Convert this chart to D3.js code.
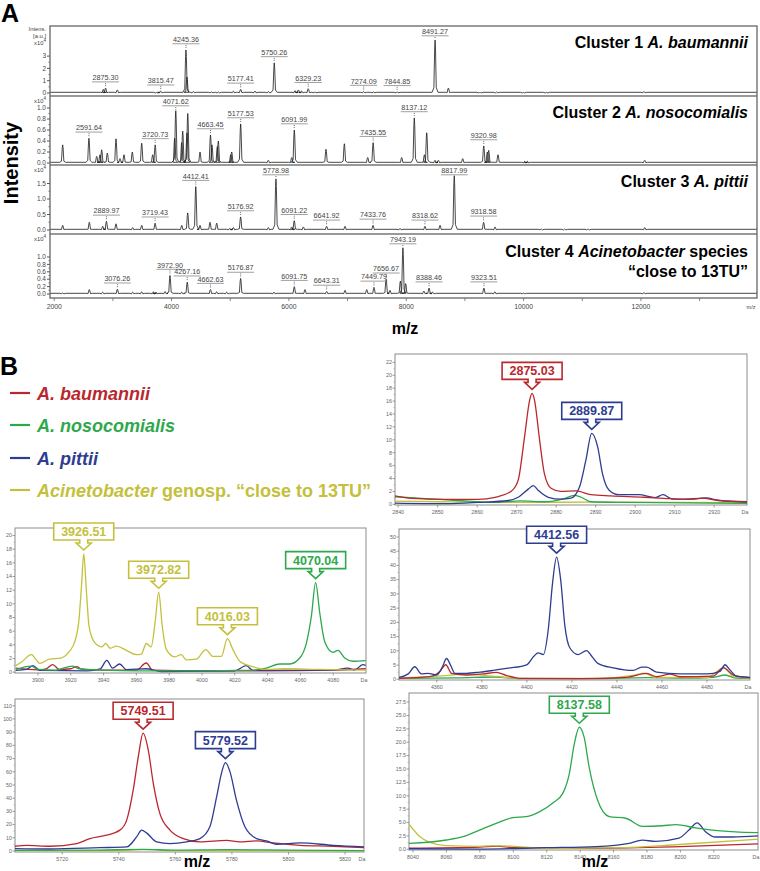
<!DOCTYPE html>
<html>
<head>
<meta charset="utf-8">
<script src="https://cdn.jsdelivr.net/npm/d3@7"></script>
<style>
  body { margin: 0; background: #fff; }
  svg { display: block; font-family: "Liberation Sans", Arial, sans-serif; }
</style>
</head>
<body>
<div id="chart"></div>
<script>
// ---------- Panel A: MALDI-TOF spectra, intensities in x10^4 a.u. ----------
// labelled peaks [m/z, intensity]
const c1Labeled = [[2875.30, 0.4], [3815.47, 0.15], [4245.36, 3.5], [5177.41, 0.3], [5750.26, 2.45],
                   [6329.23, 0.35], [7274.09, 0.12], [7844.85, 0.1], [8491.27, 4.3]];
const c1Other = [[2837, 0.3], [3075, 0.25], [3746, 0.05], [4262, 1.3], [4371, 0.12], [4684, 0.1], [4797, 0.08],
                 [5053, 0.15], [5422, 0.15], [5649, 0.12], [6104, 0.2], [6161, 0.25], [6218, 0.15], [6445, 0.1],
                 [7439, 0.1], [8718, 0.4], [9257, 0.05], [9541, 0.08], [9996, 0.05], [10393, 0.05], [12050, 0.12]];

const c2Labeled = [[2591.64, 0.45], [3720.73, 0.33], [4071.62, 0.95], [4663.45, 0.51], [5177.53, 0.71],
                   [6091.99, 0.6], [7435.55, 0.37], [8137.12, 0.82], [9320.98, 0.31]];
const c2Other = [[2144, 0.33], [2724, 0.12], [2780, 0.15], [2809, 0.24], [2905, 0.18], [3053, 0.44], [3121, 0.08],
                 [3189, 0.15], [3331, 0.2], [3491, 0.36], [3678, 0.15], [4053, 0.45], [4173, 0.37], [4190, 0.58],
                 [4263, 0.55], [4276, 0.9], [4485, 0.2], [4689, 0.33], [4780, 0.3], [4797, 0.4], [5008, 0.15],
                 [5025, 0.2], [5649, 0.05], [6048, 0.1], [6632, 0.25], [6945, 0.35], [7343, 0.1], [7922, 0.1],
                 [8309, 0.15], [8349, 0.55], [8490, 0.05], [8547, 0.05], [8962, 0.08], [9382, 0.2], [9405, 0.23],
                 [9564, 0.15], [10018, 0.03], [10064, 0.03], [12063, 0.05]];

const c3Labeled = [[2889.97, 0.28], [3719.43, 0.22], [4412.41, 1.4], [5176.92, 0.42], [5778.98, 1.65],
                   [6091.22, 0.3], [6641.92, 0.12], [7433.76, 0.15], [8318.62, 0.12], [8817.99, 1.75], [9318.58, 0.25]];
const c3Other = [[2144, 0.15], [2598, 0.25], [2826, 0.12], [3053, 0.2], [3337, 0.08], [3491, 0.15], [4173, 0.15],
                 [4275, 0.55], [4485, 0.15], [4655, 0.25], [4769, 0.22], [4990, 0.05], [5053, 0.08], [5649, 0.08],
                 [6048, 0.1], [6246, 0.1], [6956, 0.12], [7894, 0.05], [8576, 0.15], [9513, 0.1], [10300, 0.03],
                 [10700, 0.03], [11100, 0.03], [12065, 0.08]];

const c4Labeled = [[3076.26, 0.13], [3972.90, 0.5], [4267.16, 0.32], [4662.63, 0.12], [5176.87, 0.42],
                   [6091.75, 0.2], [6643.31, 0.07], [7449.79, 0.18], [7656.67, 0.4], [7943.19, 1.25],
                   [8388.46, 0.16], [9323.51, 0.16]];
const c4Other = [[2144, 0.03], [2598, 0.12], [2826, 0.05], [3337, 0.05], [3491, 0.06], [3690, 0.06], [3735, 0.05],
                 [3888, 0.07], [4173, 0.05], [4769, 0.06], [4939, 0.05], [5746, 0.05], [6274, 0.12], [6956, 0.1],
                 [7326, 0.12], [7723, 0.1], [7900, 0.35], [7990, 0.28], [8300, 0.08], [8450, 0.05], [9510, 0.06],
                 [10000, 0.03], [12050, 0.04]];

const panelATicks = [[0, 1, 2, 3], [0, 0.2, 0.4, 0.6, 0.8, 1.0], [0, 0.5, 1.0, 1.5], [0, 0.2, 0.4, 0.6, 0.8, 1.0]];
const panelAXTicks = [2000, 4000, 6000, 8000, 10000, 12000];

// ---------- Panel B: zoomed overlays [m/z, intensity] ----------
const b1Red = [[2838.5, 1.4], [2843.6, 0.93], [2852, 0.78], [2860.3, 0.78], [2864.5, 1.09], [2868.7, 2.07],
               [2870.4, 3.8], [2872, 10.5], [2873.3, 16.2], [2873.9, 17.2], [2874.5, 16.2], [2875.8, 10],
               [2877, 4.8], [2878.7, 2.5], [2881.2, 2], [2885, 2.1], [2888.8, 1.5], [2893.8, 1.3], [2902.2, 1.1],
               [2907.2, 0.93], [2912.2, 0.78], [2917, 0.95], [2920, 0.7], [2928.3, 0.36]];
const b1Blue = [[2838.5, 0.2], [2852, 0.1], [2860.3, 0.3], [2867.9, 0.6], [2870.4, 1.1], [2873, 2.4], [2874.2, 2.9],
                [2875.4, 2.2], [2878, 1.1], [2881.2, 0.8], [2883.7, 0.95], [2885.9, 2.7], [2887.5, 6.8], [2889, 11],
                [2890.5, 8.9], [2891.7, 4.8], [2893.4, 2.2], [2895.9, 1.5], [2900.9, 1.5], [2905.1, 1.05],
                [2907, 1.5], [2909.5, 0.8], [2914, 0.8], [2918, 1.0], [2921, 0.6], [2928.3, 0.4]];
const b1Green = [[2838.5, 1.2], [2847, 0.9], [2855, 0.6], [2864.5, 0.3], [2871, 0.55], [2877, 0.4], [2882, 0.9],
                 [2884.6, 1.4], [2886.3, 1.1], [2888.8, 0.4], [2898, 0.3], [2928.3, 0.15]];
const b1Olive = [[2838.5, 0.5], [2850, 0.4], [2870, 0.3], [2890, 0.35], [2910, 0.3], [2928.3, 0.25]];

const b2Olive = [[3886.5, 0.95], [3890, 1.5], [3896, 2.56], [3899, 1.8], [3901, 1.3], [3907, 1.9], [3914, 2.07],
                 [3919, 3], [3922.5, 4.5], [3925, 7.7], [3926.5, 12.5], [3927.9, 17.3], [3929.5, 12], [3931, 7],
                 [3933, 5], [3936, 4], [3939, 3.7], [3941.3, 4.2], [3944, 3.5], [3947.8, 3.8], [3953.9, 3.2],
                 [3960, 2.56], [3963, 2.65], [3966.1, 4.2], [3969, 3.7], [3971.5, 7.5], [3973.6, 11.7],
                 [3975.8, 6.7], [3978.3, 3.3], [3983.4, 2.25], [3987.4, 2.56], [3990.5, 1.8], [3996.6, 1.9],
                 [4002.3, 3.3], [4006.7, 2.3], [4011.8, 2.3], [4015.5, 4.9], [4018.9, 3.3], [4023, 1.6],
                 [4031, 0.8], [4039, 0.4], [4050, 0.5], [4070, 0.4], [4100, 0.3]];
const b2Green = [[3886.5, 0.4], [3896, 0.9], [3900, 0.4], [3910, 0.3], [3921, 0.9], [3925, 0.5], [3940, 0.3],
                 [3960, 0.2], [4000, 0.2], [4020, 0.25], [4031.1, 0.3], [4039.3, 0.6], [4047.4, 1.2], [4053.5, 1.2],
                 [4059.6, 2.07], [4063.7, 4.3], [4066.7, 8.2], [4069.3, 13.1], [4071.8, 8.7], [4074.8, 4.5],
                 [4079.9, 2.9], [4082.9, 3.2], [4087, 2.07], [4092, 1.6], [4099.8, 1.7]];
const b2Red = [[3886.5, 0.6], [3900, 0.35], [3905, 0.5], [3909, 1.1], [3913, 0.4], [3920, 0.5], [3923.4, 0.8],
               [3927, 0.4], [3940, 0.3], [3960, 0.3], [3966, 1.34], [3970, 0.3], [4000, 0.2], [4040, 0.2],
               [4080, 0.3], [4099.8, 0.5]];
const b2Blue = [[3886.5, 0.27], [3893, 0.4], [3897, 0.95], [3901, 0.27], [3930, 0.2], [3938, 0.5], [3942, 1.73],
                [3945.5, 0.6], [3949.8, 1.2], [3954, 0.37], [3966, 0.5], [3975, 0.1], [4020, 0.2], [4027, 0.95],
                [4031, 0.27], [4080, 0.3], [4089, 0.6], [4093, 0.3], [4098, 1.1], [4099.8, 1.0]];

const b3Blue = [[4343.2, 0.7], [4347.3, 1.9], [4350.2, 4.4], [4353.2, 1.9], [4356.1, 2.1], [4359.9, 1.5],
                [4362.5, 4.4], [4364.3, 7.3], [4366.1, 5], [4368, 2.1], [4373.2, 2.1], [4379.1, 2.5], [4385, 3.1],
                [4391.7, 3.9], [4399.9, 5.1], [4403.1, 8.1], [4405, 9.3], [4407.3, 8.7], [4409.5, 17.5],
                [4411.4, 33.8], [4413.2, 42.9], [4415, 35], [4416.9, 18.6], [4419.1, 11], [4422.8, 8.7],
                [4426.5, 10.1], [4428.8, 8.1], [4431.7, 5.5], [4438.4, 4], [4447.2, 3.1], [4451, 4.3],
                [4453.2, 4.3], [4457.6, 2.5], [4468, 1.9], [4479.9, 1.9], [4485.8, 2.8], [4488, 5.1],
                [4490.2, 3.3], [4493.2, 1], [4499.1, 0.7]];
const b3Red = [[4343.2, 0.35], [4356.9, 0.9], [4361.3, 2.7], [4364, 5.1], [4366.5, 2.1], [4373.2, 1.5],
               [4380.6, 1.9], [4386.5, 2.4], [4391, 1.3], [4396.9, 0.35], [4423.6, 0.2], [4444.3, 0.7],
               [4453.2, 2.1], [4457.6, 0.9], [4463.6, 1.8], [4468, 0.9], [4482.8, 1.1], [4487.2, 4.1],
               [4491.7, 1.5], [4499.1, 0.6]];
const b3Green = [[4343.2, 0.3], [4370, 0.5], [4386, 0.8], [4397, 0.2], [4430, 0.2], [4453, 0.6], [4470, 0.4],
                 [4483, 0.7], [4488, 1.5], [4493, 0.4], [4499.1, 0.3]];
const b3Olive = [[4343.2, 0.5], [4362, 1.2], [4373, 1.8], [4386, 1.0], [4397, 0.3], [4430, 0.3], [4448, 1.5],
                 [4452, 2.2], [4457, 0.7], [4480, 0.6], [4487.5, 4.0], [4492, 0.8], [4499.1, 0.5]];

const b4Red = [[5703.3, 3.6], [5707.4, 4.3], [5715.7, 3.6], [5725.1, 5.6], [5729.8, 9.4], [5735.7, 12],
               [5740.4, 15.8], [5742.8, 23.4], [5745.1, 46.2], [5746.9, 71.5], [5748.6, 89.2], [5750.4, 76.6],
               [5752.2, 51.2], [5754.5, 28.5], [5758.1, 15.8], [5762.8, 9.4], [5768.7, 6.9], [5778.1, 8.1],
               [5782.8, 6.9], [5788.7, 7.7], [5794.6, 6.1], [5804, 4.3], [5815.8, 3.6], [5826.7, 2.5]];
const b4Blue = [[5703.3, 1.8], [5715.7, 1.5], [5733.3, 2.5], [5742.8, 3.1], [5746.3, 10.7], [5748.1, 15.8],
                [5749.8, 13.7], [5753.4, 6.9], [5758.1, 5.6], [5764, 6.9], [5768.7, 9.4], [5772.2, 18.3],
                [5774.6, 41.1], [5776.3, 58.8], [5777.7, 66.9], [5779.3, 60.1], [5781.6, 38.5], [5784.6, 18.3],
                [5788.7, 9.4], [5792.2, 7.7], [5795.8, 5.1], [5804, 6.1], [5815.8, 4.3], [5826.7, 3.1]];
const b4Green = [[5703.3, 0.5], [5730, 0.6], [5748.6, 1.3], [5760, 0.6], [5778, 1.0], [5800, 0.6], [5826.7, 0.3]];
const b4Olive = [[5703.3, 0.3], [5740, 0.3], [5749, 1.0], [5760, 0.3], [5826.7, 0.2]];

const b5Green = [[8037.6, 1.1], [8059.9, 1.74], [8069.8, 2.36], [8079.8, 3.6], [8089.8, 4.85], [8099.7, 5.9],
                 [8107.7, 6.1], [8115.6, 7], [8123.5, 8.6], [8129.5, 10.4], [8133.5, 14.1], [8136.5, 19.7],
                 [8139.5, 22.8], [8142.4, 20.9], [8145.4, 15.3], [8150.4, 9.2], [8157.4, 6.1], [8167.3, 5.8],
                 [8177.2, 4.3], [8189.2, 4.4], [8197.2, 4.6], [8209.1, 4], [8219, 3.6], [8246.4, 3.1]];
const b5Blue = [[8037.6, 0.1], [8080, 0.05], [8119.6, 0.3], [8149.4, 0.5], [8169.3, 1.1], [8177.2, 1.7],
                [8185.2, 1.5], [8199.1, 2.1], [8205.1, 3.6], [8210, 4.95], [8215, 3.3], [8221, 2.3],
                [8230.9, 2.3], [8246.4, 2.5]];
const b5Olive = [[8037.6, 4.7], [8044, 2.4], [8050, 1.3], [8059.9, 0.7], [8079.8, 0.56], [8089.8, 0.7],
                 [8119.6, 0.2], [8157.4, 0.25], [8199.1, 0.9], [8246.4, 1.9]];
const b5Red = [[8037.6, 0.2], [8080, 0.4], [8090, 0.6], [8100, 0.3], [8150, 0.2], [8200, 0.5], [8246.4, 1.0]];

// callouts: [label, series]
const b1Callouts = [["2875.03", "red"], ["2889.87", "blue"]];
const b2Callouts = [["3926.51", "olive"], ["3972.82", "olive"], ["4016.03", "olive"], ["4070.04", "green"]];
const b3Callouts = [["4412.56", "blue"]];
const b4Callouts = [["5749.51", "red"], ["5779.52", "blue"]];
const b5Callouts = [["8137.58", "green"]];

const b1XTicks = d3.range(2840, 2921, 10), b1YTicks = d3.range(0, 23, 2);
const b2XTicks = d3.range(3900, 4081, 20), b2YTicks = d3.range(0, 21, 2);
const b3XTicks = d3.range(4360, 4481, 20), b3YTicks = d3.range(0, 51, 5);
const b4XTicks = d3.range(5720, 5821, 20), b4YTicks = d3.range(0, 111, 10);
const b5XTicks = d3.range(8040, 8221, 20), b5YTicks = d3.range(0, 28, 2.5);

const legendItems = [["red", "A. baumannii"], ["green", "A. nosocomialis"], ["blue", "A. pittii"],
                     ["olive", "Acinetobacter"]];

const colors = {red: "#b8282e", green: "#2ea84c", blue: "#2e3d91", olive: "#c4c03c"};

// ---------------------------------------------------------------------------
const svg = d3.select("#chart").append("svg").attr("width", 760).attr("height", 871);

svg.append("text").attr("x", 1).attr("y", 22).attr("font-size", 25).attr("font-weight", "bold").text("A");
svg.append("text").attr("x", 0).attr("y", 375).attr("font-size", 25).attr("font-weight", "bold").text("B");

// ----- panel A -----
const aX = d3.scaleLinear().domain([1928, 13978]).range([50, 757]);
const aPanels = [
    {top: 26, bottom: 96, zero: 93, unit: 12.3, fmt: d3.format("d"), lab: c1Labeled, other: c1Other},
    {top: 96, bottom: 165, zero: 163, unit: 55, fmt: d3.format(".1f"), lab: c2Labeled, other: c2Other},
    {top: 165, bottom: 234, zero: 230, unit: 31, fmt: d3.format(".1f"), lab: c3Labeled, other: c3Other},
    {top: 234, bottom: 298, zero: 294, unit: 37, fmt: d3.format(".1f"), lab: c4Labeled, other: c4Other}
];

const gA = svg.append("g");
aPanels.forEach((p, i) => {
    const y = d3.scaleLinear().domain([0, (p.zero - p.top) / p.unit]).range([p.zero, p.top]);
    const base = p.zero - 0.7;
    const peaks = p.lab.concat(p.other).sort((a, b) => a[0] - b[0]);
    const pts = [[50, base]];
    peaks.forEach(([mz, h]) => {
        const px = aX(mz);
        pts.push([px - 3, base], [px - 1.2, y(h * 0.1)], [px - 0.4, y(h * 0.85)], [px, y(h)],
                 [px + 0.4, y(h * 0.85)], [px + 1.2, y(h * 0.1)], [px + 3, base]);
    });
    pts.push([757, base]);
    gA.append("clipPath").attr("id", "clipA" + i)
        .append("rect").attr("x", 50).attr("y", p.top).attr("width", 707).attr("height", p.bottom - p.top);
    gA.append("path").attr("d", d3.line()(pts)).attr("fill", "none")
        .attr("stroke", "#1a1a1a").attr("stroke-width", 0.8).attr("clip-path", `url(#clipA${i})`);

    // y ticks
    const ticks = panelATicks[i];
    ticks.forEach((t, k) => {
        gA.append("line").attr("x1", 47).attr("x2", 50).attr("y1", y(t)).attr("y2", y(t)).attr("stroke", "#555");
        if (k < ticks.length - 1) {
            const m = (t + ticks[k + 1]) / 2;
            gA.append("line").attr("x1", 48.5).attr("x2", 50).attr("y1", y(m)).attr("y2", y(m)).attr("stroke", "#777");
        }
        gA.append("text").attr("x", 46).attr("y", y(t) + 2.2).attr("text-anchor", "end")
            .attr("font-size", 6.5).attr("fill", "#444").text(p.fmt(t));
    });
    const expY = i === 0 ? 44.5 : p.top + 6.5;
    const ex = gA.append("text").attr("x", 46).attr("y", expY).attr("text-anchor", "end")
        .attr("font-size", 5.8).attr("fill", "#444");
    ex.append("tspan").text("x10");
    ex.append("tspan").attr("dy", -2.3).attr("font-size", 4.6).text("4");

    // peak labels
    p.lab.forEach(([mz, h]) => {
        const px = aX(mz), py = y(h);
        const ly = Math.max(py - 8, p.top + 8);
        const t = gA.append("text").attr("x", px).attr("y", ly).attr("text-anchor", "middle")
            .attr("font-size", 7.2).attr("fill", "#444").text(mz.toFixed(2));
        const w = t.node().getComputedTextLength();
        gA.append("line").attr("x1", px - w / 2 - 0.5).attr("x2", px + w / 2 + 0.5)
            .attr("y1", ly + 1.8).attr("y2", ly + 1.8).attr("stroke", "#777").attr("stroke-width", 0.7);
        if (py - 1 > ly + 3)
            gA.append("line").attr("x1", px).attr("x2", px).attr("y1", ly + 3).attr("y2", py - 1)
                .attr("stroke", "#444").attr("stroke-width", 0.8).attr("stroke-dasharray", "1,1");
    });

    if (i > 0)
        gA.append("line").attr("x1", 50).attr("x2", 757).attr("y1", p.top).attr("y2", p.top)
            .attr("stroke", "#777").attr("stroke-width", 1.6);
});
gA.append("rect").attr("x", 50).attr("y", 26).attr("width", 707).attr("height", 272)
    .attr("fill", "none").attr("stroke", "#666").attr("stroke-width", 1.3);

const intens = gA.append("g").attr("font-size", 5.8).attr("fill", "#444").attr("text-anchor", "end");
intens.append("text").attr("x", 46).attr("y", 31).text("Intens.");
intens.append("text").attr("x", 46).attr("y", 37.5).text("[a.u.]");

// x axis of panel A
d3.range(2000, 14000, 1000).forEach(t => {
    gA.append("line").attr("x1", aX(t)).attr("x2", aX(t)).attr("y1", 298).attr("y2", 301)
        .attr("stroke", "#666").attr("stroke-width", 0.8);
});
panelAXTicks.forEach(t => {
    gA.append("text").attr("x", aX(t)).attr("y", 309).attr("text-anchor", "middle")
        .attr("font-size", 6.8).attr("fill", "#444").text(t);
});
gA.append("text").attr("x", 751).attr("y", 309).attr("text-anchor", "middle")
    .attr("font-size", 5.5).attr("fill", "#444").text("m/z");

// cluster titles
const titles = gA.append("g").attr("font-size", 16).attr("font-weight", "bold")
    .attr("text-anchor", "end").style("white-space", "pre");
function title(y, parts) {
    const t = titles.append("text").attr("x", 748).attr("y", y);
    parts.forEach(([s, it]) => t.append("tspan").attr("font-style", it ? "italic" : "normal").text(s));
}
title(48, [["Cluster 1  ", false], ["A. baumannii", true]]);
title(118, [["Cluster 2  ", false], ["A. nosocomialis", true]]);
title(186.5, [["Cluster 3  ", false], ["A. pittii", true]]);
title(256.5, [["Cluster 4  ", false], ["Acinetobacter", true], [" species", false]]);
title(276.5, [["\u201Cclose to 13TU\u201D", false]]);

svg.append("text").attr("transform", "translate(17.5,163) rotate(-90)").attr("text-anchor", "middle")
    .attr("font-size", 20).attr("font-weight", "bold").text("Intensity");
svg.append("text").attr("x", 405).attr("y", 334).attr("text-anchor", "middle")
    .attr("font-size", 16).attr("font-weight", "bold").text("m/z");

// ----- panel B legend -----
const legendY = [393, 425, 458, 490];
legendItems.forEach(([key, name], i) => {
    svg.append("line").attr("x1", 10).attr("x2", 30).attr("y1", legendY[i]).attr("y2", legendY[i])
        .attr("stroke", colors[key]).attr("stroke-width", 2.2);
    const t = svg.append("text").attr("x", 37).attr("y", legendY[i] + 6.5).attr("font-size", 18)
        .attr("font-weight", "bold").attr("fill", colors[key]);
    t.append("tspan").attr("font-style", "italic").text(name);
    if (key === "olive") t.append("tspan").text(" genosp. \u201Cclose to 13TU\u201D");
});

// ----- panel B charts -----
const bCharts = [
    {x0: 395, x1: 747, y0: 354, y1: 505, xd: [2839.2, 2928.3], yd: [-0.1, 23.3], xt: b1XTicks, yt: b1YTicks,
     fmt: d3.format("d"), series: {olive: b1Olive, green: b1Green, blue: b1Blue, red: b1Red}, callouts: b1Callouts},
    {x0: 15, x1: 366, y0: 528, y1: 673, xd: [3886, 4100], yd: [-0.12, 21.1], xt: b2XTicks, yt: b2YTicks,
     fmt: d3.format("d"), series: {red: b2Red, blue: b2Blue, green: b2Green, olive: b2Olive}, callouts: b2Callouts},
    {x0: 399, x1: 750, y0: 529, y1: 680, xd: [4343.2, 4499.1], yd: [-0.25, 52.8], xt: b3XTicks, yt: b3YTicks,
     fmt: d3.format("d"), series: {green: b3Green, olive: b3Olive, red: b3Red, blue: b3Blue}, callouts: b3Callouts},
    {x0: 15, x1: 364, y0: 699, y1: 852, xd: [5703.3, 5826.7], yd: [-0.76, 115.1], xt: b4XTicks, yt: b4YTicks,
     fmt: d3.format("d"), series: {olive: b4Olive, green: b4Green, red: b4Red, blue: b4Blue}, callouts: b4Callouts},
    {x0: 409, x1: 758, y0: 693, y1: 850, xd: [8037.6, 8246.4], yd: [-0.13, 29.2], xt: b5XTicks, yt: b5YTicks,
     fmt: d3.format(".1f"), series: {red: b5Red, olive: b5Olive, blue: b5Blue, green: b5Green}, callouts: b5Callouts}
];

bCharts.forEach((c, i) => {
    const g = svg.append("g");
    const x = d3.scaleLinear().domain(c.xd).range([c.x0, c.x1]);
    const y = d3.scaleLinear().domain(c.yd).range([c.y1, c.y0]);

    g.append("rect").attr("x", c.x0).attr("y", c.y0).attr("width", c.x1 - c.x0).attr("height", c.y1 - c.y0)
        .attr("fill", "#fff").attr("stroke", "#8c8c8c").attr("stroke-width", 1);
    g.append("clipPath").attr("id", "clipB" + i).append("rect")
        .attr("x", c.x0).attr("y", c.y0).attr("width", c.x1 - c.x0).attr("height", c.y1 - c.y0);

    // axes
    c.yt.forEach((t, k) => {
        g.append("line").attr("x1", c.x0 - 2.5).attr("x2", c.x0).attr("y1", y(t)).attr("y2", y(t))
            .attr("stroke", "#777").attr("stroke-width", 0.7);
        if (k < c.yt.length - 1) {
            const m = (t + c.yt[k + 1]) / 2;
            g.append("line").attr("x1", c.x0 - 1.5).attr("x2", c.x0).attr("y1", y(m)).attr("y2", y(m))
                .attr("stroke", "#999").attr("stroke-width", 0.6);
        }
        g.append("text").attr("x", c.x0 - 3).attr("y", y(t) + 1.8).attr("text-anchor", "end")
            .attr("font-size", 5.3).attr("fill", "#666").text(c.fmt(t));
    });
    c.xt.forEach(t => {
        g.append("line").attr("x1", x(t)).attr("x2", x(t)).attr("y1", c.y1).attr("y2", c.y1 + 2.5)
            .attr("stroke", "#777").attr("stroke-width", 0.7);
        g.append("text").attr("x", x(t)).attr("y", c.y1 + 8.5).attr("text-anchor", "middle")
            .attr("font-size", 5.3).attr("fill", "#666").text(t);
    });
    g.append("text").attr("x", c.x1 - 2).attr("y", c.y1 + 8.5).attr("text-anchor", "middle")
        .attr("font-size", 5.3).attr("fill", "#666").text("Da");

    const line = d3.line().x(d => x(d[0])).y(d => y(d[1])).curve(d3.curveMonotoneX);
    Object.entries(c.series).forEach(([key, data]) => {
        g.append("path").attr("d", line(data)).attr("fill", "none").attr("stroke", colors[key])
            .attr("stroke-width", 1.3).attr("clip-path", `url(#clipB${i})`);
    });

    // callouts over peaks
    c.callouts.forEach(([label, key]) => {
        const target = +label;
        const near = c.series[key].filter(d => Math.abs(d[0] - target) < 4);
        const pk = near.reduce((a, b) => (b[1] > a[1] ? b : a));
        const cx = x(pk[0]), tip = y(pk[1]) - 4;
        const bw = 60, bh = 17, by1 = tip - 10, by0 = by1 - bh;
        const x0 = cx - bw / 2, x1 = cx + bw / 2;
        const d = `M${x0},${by0}H${x1}V${by1}H${cx + 4}V${by1 + 3}H${cx + 7.5}L${cx},${tip}` +
                  `L${cx - 7.5},${by1 + 3}H${cx - 4}V${by1}H${x0}Z`;
        g.append("path").attr("d", d).attr("fill", "#fff").attr("stroke", colors[key]).attr("stroke-width", 1.6);
        g.append("text").attr("x", cx).attr("y", by0 + bh / 2 + 4.5).attr("text-anchor", "middle")
            .attr("font-size", 12.5).attr("font-weight", "bold").attr("fill", colors[key]).text(label);
    });
});

svg.append("text").attr("x", 197).attr("y", 867).attr("text-anchor", "middle")
    .attr("font-size", 16).attr("font-weight", "bold").text("m/z");
svg.append("text").attr("x", 595).attr("y", 867).attr("text-anchor", "middle")
    .attr("font-size", 16).attr("font-weight", "bold").text("m/z");
</script>
</body>
</html>
